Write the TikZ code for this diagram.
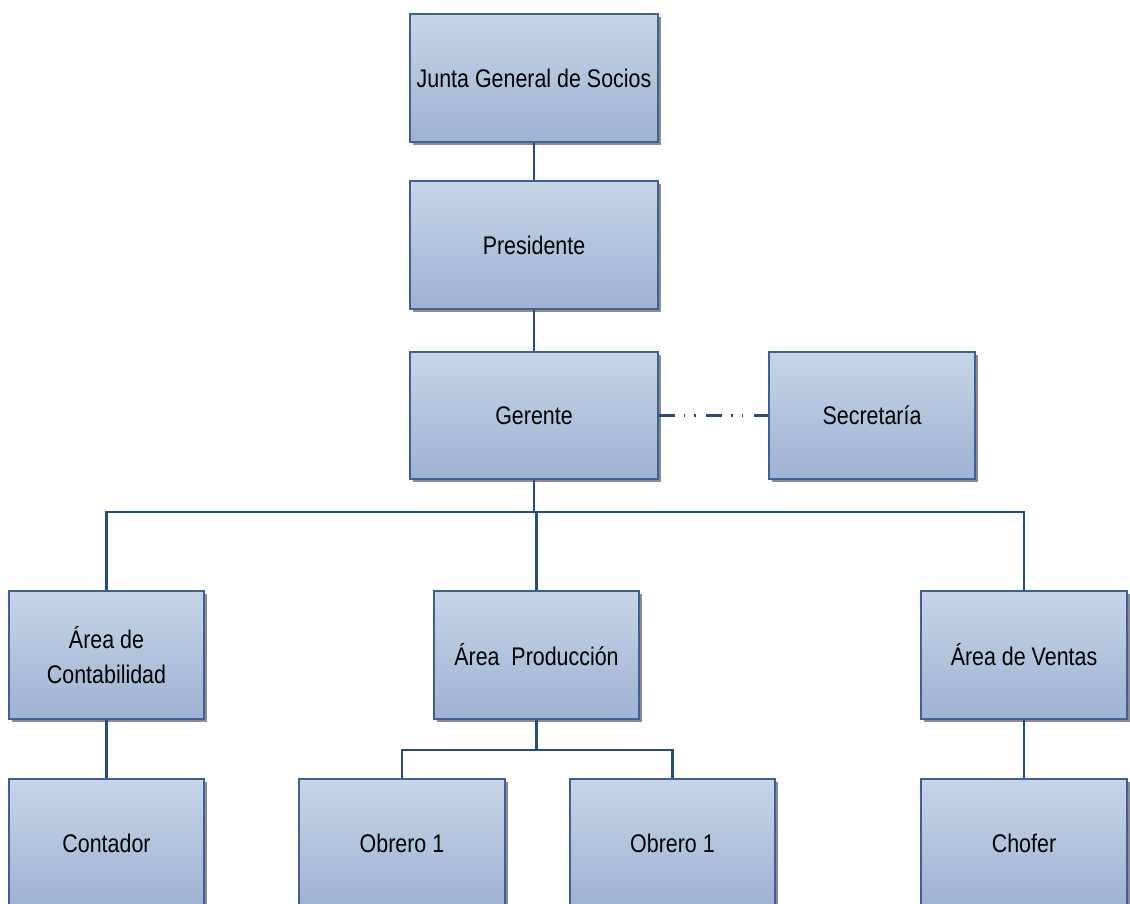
\documentclass[tikz,border=0pt]{standalone}
\usepackage{fontspec}
\setmainfont[FakeStretch=0.84]{Liberation Sans}
\usetikzlibrary{shadows}
\definecolor{boxtop}{RGB}{199,213,232}
\definecolor{boxbot}{RGB}{158,178,210}
\definecolor{boxline}{RGB}{65,95,145}
\definecolor{conn}{RGB}{40,75,130}
\tikzset{
  orgbox/.style={draw=boxline, line width=1.2pt, top color=boxtop, bottom color=boxbot,
    minimum height=128pt, inner sep=2pt, align=center,
    font=\fontsize{25.5}{35}\selectfont,
    drop shadow={shadow xshift=3pt, shadow yshift=-3pt, fill=gray!90, opacity=1}},
  link/.style={draw=conn, line width=2.3pt},
  dashlink/.style={draw=conn, line width=2.3pt, dash pattern=on 16pt off 9pt on 1.5pt off 9pt on 1.5pt off 10.5pt}
}
\begin{document}
\begin{tikzpicture}[x=1pt,y=-1pt]
\useasboundingbox[fill=white] (0,0) rectangle (1130,903);
\node[orgbox, minimum width=248pt] (junta) at (534,78) {Junta General de Socios};
\node[orgbox, minimum width=248pt] (pres) at (534,245) {Presidente};
\node[orgbox, minimum width=248pt, minimum height=127pt] (ger) at (534,415.5) {Gerente};
\node[orgbox, minimum width=206pt, minimum height=127pt] (sec) at (872,415.5) {Secretaría};
\node[orgbox, minimum width=195pt] (cont) at (106.5,655) {Área de\\Contabilidad};
\node[orgbox, minimum width=205pt] (prod) at (536.5,655) {Área~ Producción};
\node[orgbox, minimum width=206pt] (vent) at (1024,655) {Área de Ventas};
\node[orgbox, minimum width=195pt] (contador) at (106.5,843) {Contador};
\node[orgbox, minimum width=206pt] (ob1) at (402,843) {Obrero 1};
\node[orgbox, minimum width=205pt] (ob2) at (672.5,843) {Obrero 1};
\node[orgbox, minimum width=206pt] (chofer) at (1024,843) {Chofer};
\coordinate (bus) at (536.5,512);
\coordinate (bus2) at (536.5,750);
\draw[link] (junta.south) -- (pres.north);
\draw[link] (pres.south) -- (ger.north);
\draw[dashlink] (ger.east) -- (sec.west);
\draw[link] (ger.south) |- (bus);
\draw[link] (bus) -| (cont.north);
\draw[link] (bus) -| (vent.north);
\draw[link] (bus) -- (prod.north);
\draw[link] (cont.south) -- (contador.north);
\draw[link] (vent.south) -- (chofer.north);
\draw[link] (prod.south) -- (bus2);
\draw[link] (bus2) -| (ob1.north);
\draw[link] (bus2) -| (ob2.north);
\end{tikzpicture}
\end{document}
